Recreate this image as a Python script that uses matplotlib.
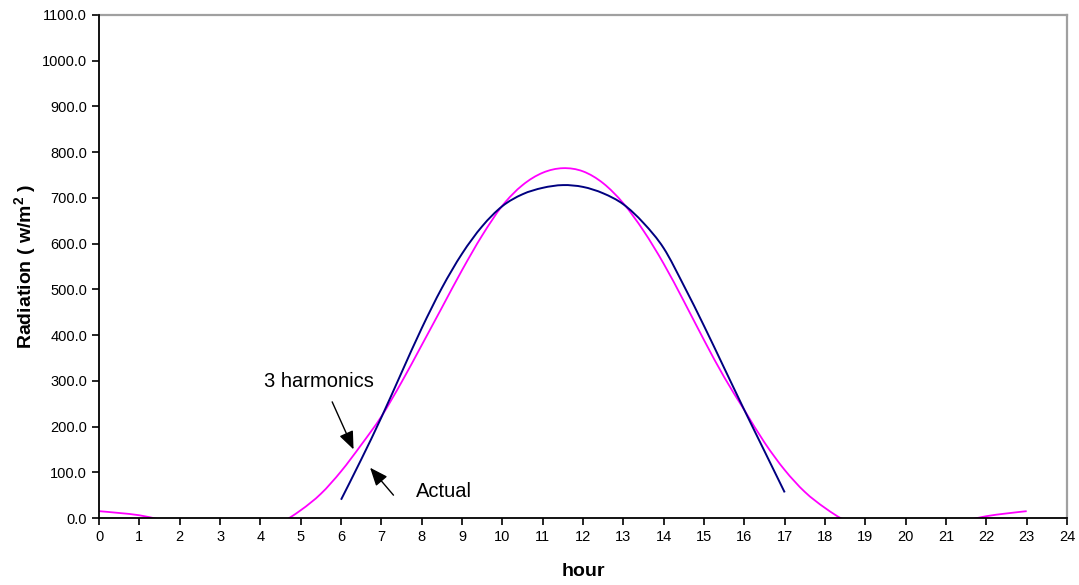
import matplotlib
matplotlib.use("Agg")
import matplotlib.pyplot as plt
from matplotlib.path import Path
from matplotlib.patches import PathPatch
from matplotlib.ticker import FormatStrFormatter

plt.rcParams["font.family"] = ["Liberation Sans", "DejaVu Sans"]
plt.rcParams["mathtext.fontset"] = "custom"
plt.rcParams["mathtext.rm"] = "Liberation Sans"
plt.rcParams["mathtext.bf"] = "Liberation Sans:bold"

# measured radiation (w/m2), half-hourly, 6h to 17h
actual_hour = [6, 6.5, 7, 7.5, 8, 8.5, 9, 9.5, 10, 10.5, 11, 11.5, 12,
               12.5, 13, 13.5, 14, 14.5, 15, 15.5, 16, 16.5, 17]
actual_rad = [40, 128, 220, 318, 415, 503, 578, 638, 682, 708, 722, 728, 724,
              710, 686, 645, 590, 508, 420, 328, 236, 146, 56]

# 3-harmonic fit, half-hourly, 0h to 23h (below zero is cut off by the axis)
fit_hour = [0, 0.5, 1, 1.5, 2, 3, 4, 4.5, 5, 5.5, 6, 6.5, 7, 7.5, 8, 8.5,
            9, 9.5, 10, 10.5, 11, 11.5, 12, 12.5, 13, 13.5, 14, 14.5, 15,
            15.5, 16, 16.5, 17, 17.5, 18, 18.5, 19, 20, 21, 21.5, 22, 22.5, 23]
fit_rad = [15, 11, 6, -3, -12, -25, -20, -10, 17, 53, 102, 160, 222, 297, 378,
           460, 542, 618, 683, 728, 755, 765, 758, 732, 688, 628, 556, 474,
           389, 308, 236, 165, 105, 57, 22, -5, -15, -20, -12, -5, 4, 10, 15]


def smooth_line(ax, xs, ys, **kw):
    # excel-style smoothed line: cubic bezier segments through the points
    pts = list(zip(xs, ys))
    verts = [pts[0]]
    codes = [Path.MOVETO]
    n = len(pts)
    for i in range(n - 1):
        p0 = pts[max(i - 1, 0)]
        p1 = pts[i]
        p2 = pts[i + 1]
        p3 = pts[min(i + 2, n - 1)]
        c1 = (p1[0] + (p2[0] - p0[0]) / 6, p1[1] + (p2[1] - p0[1]) / 6)
        c2 = (p2[0] - (p3[0] - p1[0]) / 6, p2[1] - (p3[1] - p1[1]) / 6)
        verts += [c1, c2, p2]
        codes += [Path.CURVE4] * 3
    ax.add_patch(PathPatch(Path(verts, codes), fill=False,
                           transform=ax.transData, **kw))


fig = plt.figure(figsize=(10.79, 5.85), dpi=100)
ax = fig.add_axes([0.0918, 0.1145, 0.8971, 0.8599])

smooth_line(ax, fit_hour, fit_rad, edgecolor="#FF00FF", lw=1.3, zorder=2)
smooth_line(ax, actual_hour, actual_rad, edgecolor="#000080", lw=1.4,
            zorder=3)

ax.set_xlim(0, 24)
ax.set_ylim(0, 1100)
ax.set_xticks(range(0, 25))
ax.set_yticks(range(0, 1101, 100))
ax.yaxis.set_major_formatter(FormatStrFormatter("%.1f"))
ax.tick_params(direction="out", length=5, width=1.2, labelsize=10.5,
               colors="black")

for side in ["left", "bottom"]:
    ax.spines[side].set_color("black")
    ax.spines[side].set_linewidth(1.3)
    ax.spines[side].set_zorder(4)
for side in ["top", "right"]:
    ax.spines[side].set_color("#a0a0a0")
    ax.spines[side].set_linewidth(1.6)

ax.set_xlabel("hour", fontsize=14, fontweight="bold", labelpad=14)
ax.set_ylabel(r"Radiation ( w/m$^{\mathbf{2}}$ )", fontsize=14,
              fontweight="bold", labelpad=2)

arrow = dict(arrowstyle="-|>,head_length=1.1,head_width=0.45", color="black",
             lw=1.0, shrinkA=0, shrinkB=0)
ax.annotate("", xy=(6.31, 150), xytext=(5.78, 254), arrowprops=arrow)
ax.text(5.45, 298, "3 harmonics", fontsize=14.5, ha="center", va="center")
ax.annotate("", xy=(6.72, 110), xytext=(7.30, 50), arrowprops=arrow)
ax.text(8.55, 57, "Actual", fontsize=14.5, ha="center", va="center")

fig.savefig("out.png", dpi=100)
